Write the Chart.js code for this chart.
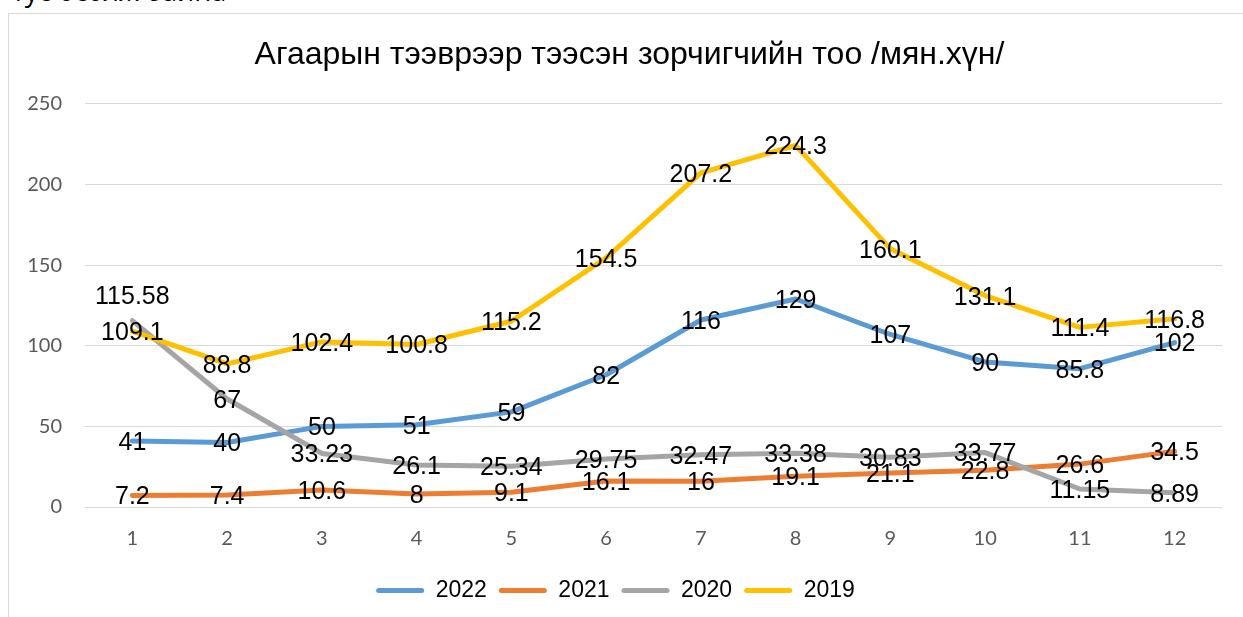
<!DOCTYPE html>
<html>
<head>
<meta charset="utf-8">
<script src="https://cdn.jsdelivr.net/npm/chart.js@4"></script>
<style>
    html, body { margin: 0; padding: 0; background: #fff; overflow: hidden; }
    body { width: 1243px; height: 617px; position: relative; }
    .top-text {
        position: absolute; left: 12px; top: -28px;
        font: 27px 'Open Sans', sans-serif; color: #000; white-space: nowrap;
    }
    .frame {
        position: absolute; left: 8px; top: 13px;
        width: 1240px; height: 620px;
        border: 1px solid #d9d9d9; background: #fff;
    }
    canvas { display: block; }
</style>
</head>
<body>
<div class="top-text">тус өсөлж байна</div>
<div class="frame"><canvas id="lineChart" width="1240" height="620"></canvas></div>
<script>
// Агаарын тээврээр тээсэн зорчигч, мян.хүн
const months = ['1', '2', '3', '4', '5', '6', '7', '8', '9', '10', '11', '12'];
const data2022 = [41, 40, 50, 51, 59, 82, 116, 129, 107, 90, 85.8, 102];
const data2021 = [7.2, 7.4, 10.6, 8, 9.1, 16.1, 16, 19.1, 21.1, 22.8, 26.6, 34.5];
const data2020 = [115.58, 67, 33.23, 26.1, 25.34, 29.75, 32.47, 33.38, 30.83, 33.77, 11.15, 8.89];
const data2019 = [109.1, 88.8, 102.4, 100.8, 115.2, 154.5, 207.2, 224.3, 160.1, 131.1, 111.4, 116.8];

const series = [
    { label: '2022', values: data2022, color: '#5b9bd5' },
    { label: '2021', values: data2021, color: '#ed7d31' },
    { label: '2020', values: data2020, color: '#a5a5a5' },
    { label: '2019', values: data2019, color: '#ffc000' }
];

// labels drawn on top of the lines, centred on each point
const valueLabels = {
    id: 'valueLabels',
    afterDatasetsDraw(chart) {
        const ctx = chart.ctx;
        ctx.save();
        ctx.font = '25px "Liberation Sans", Arial, sans-serif';
        ctx.fillStyle = '#000';
        ctx.textAlign = 'center';
        ctx.textBaseline = 'middle';
        chart.data.datasets.forEach((ds, i) => {
            const meta = chart.getDatasetMeta(i);
            meta.data.forEach((pt, j) => {
                // first 2020 label sits above its point in the original
                const dy = (ds.label === '2020' && j === 0) ? -24 : 2;
                ctx.fillText(String(ds.data[j]), pt.x, pt.y + dy);
            });
        });
        ctx.restore();
    }
};

// title in the original is centred a bit to the right of the legend
const titleShift = {
    id: 'titleShift',
    afterLayout(chart) {
        if (chart.titleBlock) {
            chart.titleBlock.left += 14;
            chart.titleBlock.right += 14;
        }
    }
};

const ctx = document.getElementById('lineChart').getContext('2d');
new Chart(ctx, {
    type: 'line',
    data: {
        labels: months,
        datasets: series.map((s, i) => ({
            label: s.label,
            data: s.values,
            borderColor: s.color,
            backgroundColor: s.color,
            borderWidth: 5,
            borderCapStyle: 'round',
            borderJoinStyle: 'round',
            pointRadius: 0,
            tension: 0,
            order: series.length - i
        }))
    },
    options: {
        responsive: false,
        animation: false,
        layout: { padding: { left: 0, right: 27, top: 0, bottom: 22 } },
        plugins: {
            title: {
                display: true,
                text: 'Агаарын тээврээр тээсэн зорчигчийн тоо /мян.хүн/',
                color: '#000',
                font: { family: '"Liberation Sans", Arial, sans-serif', size: 32, weight: 'normal', lineHeight: 1.2 },
                padding: { top: 21.5, bottom: 30 }
            },
            legend: {
                position: 'bottom',
                sort: (a, b) => a.datasetIndex - b.datasetIndex,
                labels: {
                    color: '#000',
                    font: { family: '"Liberation Sans", Arial, sans-serif', size: 23 },
                    boxWidth: 48,
                    boxHeight: 5,
                    padding: 12,
                    generateLabels: (chart) => chart.data.datasets.map((ds, i) => ({
                        text: ds.label,
                        fillStyle: ds.borderColor,
                        strokeStyle: ds.borderColor,
                        lineWidth: 0,
                        borderRadius: 2.5,
                        fontColor: '#000',
                        hidden: false,
                        datasetIndex: i
                    }))
                }
            },
            tooltip: { enabled: false }
        },
        scales: {
            y: {
                min: 0,
                max: 250,
                ticks: {
                    stepSize: 50,
                    color: '#595959',
                    padding: 23,
                    font: { family: 'Lato, sans-serif', size: 20 }
                },
                grid: { color: '#d9d9d9', lineWidth: 1, drawTicks: false },
                border: { display: false },
                afterFit: (scale) => { scale.width = 76; }
            },
            x: {
                offset: true,
                ticks: {
                    color: '#595959',
                    padding: 20,
                    font: { family: 'Lato, sans-serif', size: 20 }
                },
                grid: { display: false, drawTicks: false, offset: true },
                border: { display: false },
                afterFit: (scale) => { scale.height = 60; }
            }
        }
    },
    plugins: [valueLabels, titleShift]
});
</script>
</body>
</html>
